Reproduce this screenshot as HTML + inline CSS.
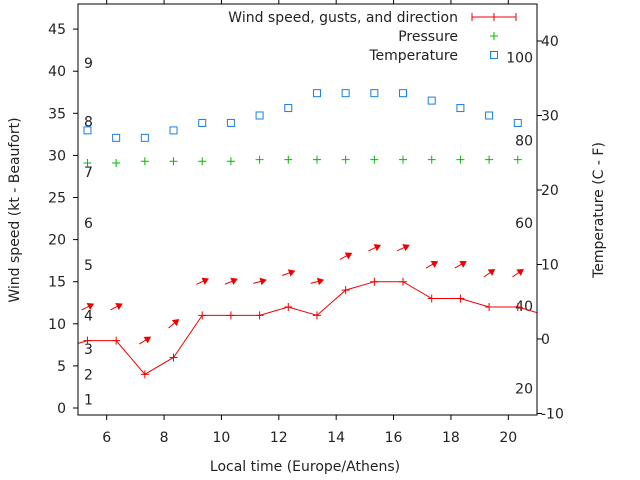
<!DOCTYPE html>
<html><head><meta charset="utf-8"><style>
body{margin:0;background:#fff}
svg{display:block;font-family:"DejaVu Sans","Liberation Sans",sans-serif}
</style></head><body>
<svg id="chart" width="640" height="480" viewBox="0 0 640 480" xmlns="http://www.w3.org/2000/svg">
<rect width="640" height="480" fill="#fff"/>
<g id="grid"></g>
<g id="series"></g>
<g id="axes"></g>
<g id="legend">
  <text x="458" y="22" text-anchor="end" font-size="14" fill="#222">Wind speed, gusts, and direction</text>
  <g stroke="#e00" stroke-width="1"><line x1="472" y1="17" x2="516" y2="17"/><line x1="472" y1="13" x2="472" y2="21"/><line x1="516" y1="13" x2="516" y2="21"/><line x1="494" y1="13" x2="494" y2="21"/></g>
  <text x="458" y="41" text-anchor="end" font-size="14" fill="#222">Pressure</text>
  <g stroke="#0b0" stroke-width="1"><line x1="490" y1="36" x2="498" y2="36"/><line x1="494" y1="32" x2="494" y2="40"/></g>
  <text x="458" y="60" text-anchor="end" font-size="14" fill="#222">Temperature</text>
  <rect x="490.5" y="51.5" width="7" height="7" fill="none" stroke="#1a7fe0"/>
</g>
</svg>
<script>
const times = [5.33,6.33,7.33,8.33,9.33,10.33,11.33,12.33,13.33,14.33,15.33,16.33,17.33,18.33,19.33,20.33];
const windSpeed = [8,8,4,6,11,11,11,12,11,14,15,15,13,13,12,12];
const windBefore = [4.33, 7];
const windAfter = [21.33, 11];
const gusts = [12,12,8,10,15,15,15,16,15,18,19,19,17,17,16,16];
const windDir = [27,27,32,40,25,23,15,20,15,28,25,25,30,30,35,35];
const pressure = [29.1,29.1,29.3,29.3,29.3,29.3,29.5,29.5,29.5,29.5,29.5,29.5,29.5,29.5,29.5,29.5];
const temperature = [28,27,27,28,29,29,30,31,33,33,33,33,32,31,30,29];
const xTicks = [6,8,10,12,14,16,18,20];
const yTicks = [0,5,10,15,20,25,30,35,40,45];
const y2Ticks = [-10,0,10,20,30,40];
const beaufortKt = [1,4,7,11,17,22,28,34,41];
const beaufortLabels = ["1","2","3","4","5","6","7","8","9"];
const fahrenheit = [20,40,60,80,100];

const L=78,R=537,T=4,B=415;
const X = v => L + (v-5)/(21-5)*(R-L);
const Y = v => 408 - v*8.42;
const Y2 = v => 339 - v*7.45;
const NS="http://www.w3.org/2000/svg";
function mk(tag, attrs, parent){const e=document.createElementNS(NS,tag);for(const k in attrs)e.setAttribute(k,attrs[k]);parent.appendChild(e);return e;}
const axes=document.getElementById('axes'), ser=document.getElementById('series');

let f=mk('rect',{x:L,y:T,width:R-L,height:B-T,fill:'none',stroke:'#000','stroke-width':1},axes);



xTicks.forEach(t=>{const x=X(t);
 mk('line',{x1:x,y1:B,x2:x,y2:B+5,stroke:'#000'},axes);
 mk('line',{x1:x,y1:T,x2:x,y2:T-5,stroke:'#000'},axes);
 const tx=mk('text',{x:x,y:442,'text-anchor':'middle','font-size':14,fill:'#222'},axes);tx.textContent=t;
 
 
});
yTicks.forEach(t=>{const y=Y(t);
 mk('line',{x1:L-5,y1:y,x2:L,y2:y,stroke:'#000'},axes);
 const tx=mk('text',{x:66,y:y+5,'text-anchor':'end','font-size':14,fill:'#222'},axes);tx.textContent=t;
 
 
});
y2Ticks.forEach(t=>{const y=Y2(t);
 mk('line',{x1:R,y1:y,x2:R+5,y2:y,stroke:'#000'},axes);
 const tx=mk('text',{x:541,y:y+5,'font-size':14,fill:'#222'},axes);tx.textContent=t;
 
 
});
beaufortKt.forEach((k,i)=>{const tx=mk('text',{x:84,y:Y(k)+5,'font-size':14,fill:'#222'},ser);tx.textContent=beaufortLabels[i];
 
 
});
fahrenheit.forEach(fv=>{const c=(fv-32)*5/9;const tx=mk('text',{x:533,y:Y2(c)+5,'text-anchor':'end','font-size':14,fill:'#222'},ser);tx.textContent=fv;
 
 
});

let t1=mk('text',{x:305,y:471,'text-anchor':'middle','font-size':14,fill:'#222'},axes);t1.textContent='Local time (Europe/Athens)';


let t2=mk('text',{x:0,y:0,transform:'translate(19,210) rotate(-90)','text-anchor':'middle','font-size':14,fill:'#222'},axes);t2.textContent='Wind speed (kt - Beaufort)';


let t3=mk('text',{x:0,y:0,transform:'translate(603,210) rotate(-90)','text-anchor':'middle','font-size':14,fill:'#222'},axes);t3.textContent='Temperature (C - F)';



const defs=mk('defs',{},ser);const cp=mk('clipPath',{id:'clip'},defs);mk('rect',{x:L,y:T,width:R-L,height:B-T},cp);
const g=mk('g',{'clip-path':'url(#clip)'},ser);

let pts=[[X(windBefore[0]),Y(windBefore[1])]];
times.forEach((t,i)=>pts.push([X(t),Y(windSpeed[i])]));
pts.push([X(windAfter[0]),Y(windAfter[1])]);
let wl=mk('polyline',{points:pts.map(p=>p.join(',')).join(' '),fill:'none',stroke:'#e00','stroke-width':1},g);


times.forEach((t,i)=>{const x=X(t),y=Y(windSpeed[i]);
 const p=mk('path',{d:`M${x-4},${y}H${x+4}M${x},${y-4}V${y+4}`,stroke:'#e00'},g);
 
 
});
times.forEach((t,i)=>{const x=X(t),y=Y(gusts[i]);const a=windDir[i]*Math.PI/180;const len=13;
 const dx=Math.cos(a)*len/2,dy=-Math.sin(a)*len/2;
 const hx=x+dx,hy=y+dy,tx=x-dx,ty=y-dy;
 const ux=(hx-tx)/len,uy=(hy-ty)/len;
 const h1x=hx-ux*5-uy*3,h1y=hy-uy*5+ux*3,h2x=hx-ux*5+uy*3,h2y=hy-uy*5-ux*3;
 const p=mk('path',{d:`M${tx},${ty}L${hx},${hy}M${h1x},${h1y}L${hx},${hy}L${h2x},${h2y}Z`,stroke:'#e00',fill:'#e00','stroke-width':1},g);
 
 
});
times.forEach((t,i)=>{const x=X(t),y=Y(pressure[i]);
 const p=mk('path',{d:`M${x-4},${y}H${x+4}M${x},${y-4}V${y+4}`,stroke:'#0b0'},g);
 
 
});
times.forEach((t,i)=>{const x=X(t),y=Y2(temperature[i]);
 const r=mk('rect',{x:x-3.5,y:y-3.5,width:7,height:7,fill:'none',stroke:'#1a7fe0'},g);
 
 
});
</script>
</body></html>
